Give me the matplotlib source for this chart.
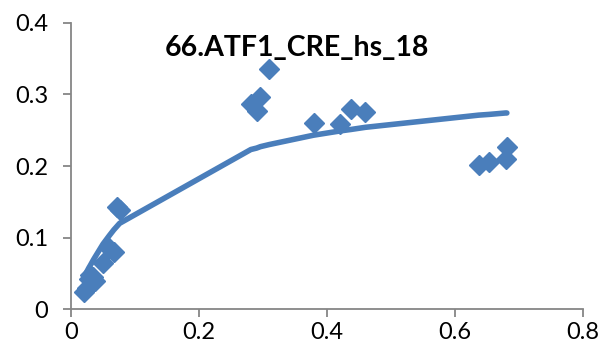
import matplotlib.pyplot as plt

plt.rcParams['font.family'] = ['Lato', 'DejaVu Sans']

# measured points
x_obs = [0.020, 0.025, 0.028, 0.030, 0.035, 0.037, 0.050, 0.060, 0.067, 0.072, 0.076,
         0.281, 0.290, 0.296, 0.310, 0.379, 0.421, 0.4375, 0.460,
         0.637, 0.653, 0.679, 0.681]
y_obs = [0.024, 0.030, 0.042, 0.048, 0.045, 0.040, 0.064, 0.085, 0.080, 0.143, 0.138,
         0.287, 0.277, 0.296, 0.336, 0.260, 0.259, 0.279, 0.276,
         0.201, 0.205, 0.210, 0.227]

# fitted curve evaluated at the same x
y_fit = [0.044, 0.053, 0.058, 0.061, 0.069, 0.072, 0.091, 0.103, 0.111, 0.116, 0.120,
         0.223, 0.225, 0.227, 0.230, 0.243, 0.249, 0.251, 0.254,
         0.271, 0.272, 0.274, 0.274]

title = "66.ATF1_CRE_hs_18"
xticks = [0, 0.2, 0.4, 0.6, 0.8]
yticks = [0, 0.1, 0.2, 0.3, 0.4]

blue = '#4A7EBB'
grey = '#868686'

fig = plt.figure(figsize=(6, 3.57), dpi=100)
ax = fig.add_axes([0.1183, 0.1336, 0.8534, 0.8028])

ax.plot(x_obs, y_fit, color=blue, lw=4.0, solid_capstyle='round', zorder=2)
ax.plot(x_obs, y_obs, 'D', color=blue, ms=10.5, mec=blue, zorder=3)

ax.set_xlim(0, 0.8)
ax.set_ylim(0, 0.4)
ax.set_xticks(xticks)
ax.set_yticks(yticks)
ax.set_xticklabels(['0', '0.2', '0.4', '0.6', '0.8'])
ax.set_yticklabels(['0', '0.1', '0.2', '0.3', '0.4'])

for side in ['top', 'right']:
    ax.spines[side].set_visible(False)
for side in ['left', 'bottom']:
    ax.spines[side].set_color(grey)
    ax.spines[side].set_linewidth(1.3)

ax.tick_params(axis='both', colors=grey, labelcolor='black', labelsize=17,
               length=5.5, width=1.3)
ax.tick_params(axis='y', pad=11)
ax.tick_params(axis='x', pad=4)

fig.text(0.495, 0.866, title, ha='center', va='center', fontsize=20.5,
         fontweight='bold')

fig.savefig('out.png', dpi=100)
